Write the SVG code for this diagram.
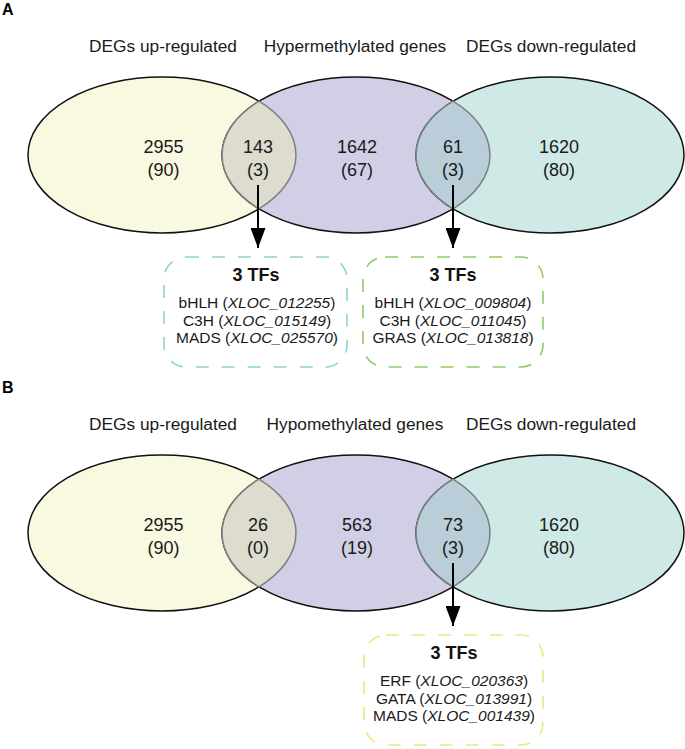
<svg xmlns="http://www.w3.org/2000/svg" width="685" height="749" viewBox="0 0 685 749">
<style>
text{font-family:"Liberation Sans",Arial,sans-serif;fill:#1a1a1a}
.panel{font-size:16px;font-weight:bold;fill:#000}
.lab{font-size:17.3px;text-anchor:middle}
.num{font-size:18px;text-anchor:middle}
.ell{stroke:#111;stroke-width:1.5}
.lens{stroke:#7f7f7f;stroke-width:1.5}
.box{fill:#fff;stroke-width:1.6;stroke-dasharray:13 13}
.tt{font-size:18px;font-weight:bold;text-anchor:middle;fill:#111}
.tl{font-size:15.5px;text-anchor:middle}
.it{font-style:italic}
.conn{stroke:#000;stroke-width:2;fill:none}
</style>
<defs>
<marker id="ah" viewBox="0 0 20 15" refX="20" refY="7.5" markerWidth="20" markerHeight="15" markerUnits="userSpaceOnUse" orient="auto">
<path d="M0,0 L20,7.5 L0,15 Z" fill="#000"/>
</marker>
</defs>
<rect width="685" height="749" fill="#fff"/>

<!-- Panel A -->
<g id="panelA">
<text class="panel" x="2" y="15">A</text>
<g id="A-up">
<ellipse class="ell" cx="162" cy="155" rx="134" ry="78" fill="#f9f9e1"/>
</g>
<g id="A-hyper">
<ellipse class="ell" cx="356" cy="155" rx="134" ry="78" fill="#d1cfe6"/>
</g>
<g id="A-down">
<ellipse class="ell" cx="550" cy="155" rx="134" ry="78" fill="#cfe9e6"/>
</g>
<g id="A-lens1">
<path class="lens" fill="#dddccf" d="M259,101.2 A134,78 0 0 1 259,208.8 A134,78 0 0 1 259,101.2 Z"/>
</g>
<g id="A-lens2">
<path class="lens" fill="#b9ced8" d="M453,101.2 A134,78 0 0 1 453,208.8 A134,78 0 0 1 453,101.2 Z"/>
</g>
<text class="lab" x="163" y="52">DEGs up-regulated</text>
<text class="lab" x="355" y="52">Hypermethylated genes</text>
<text class="lab" x="551" y="52">DEGs down-regulated</text>
<text class="num" x="163.5" y="153">2955</text><text class="num" x="163.5" y="176">(90)</text>
<text class="num" x="258" y="153">143</text><text class="num" x="258" y="176">(3)</text>
<text class="num" x="357" y="153">1642</text><text class="num" x="357" y="176">(67)</text>
<text class="num" x="453" y="153">61</text><text class="num" x="453" y="176">(3)</text>
<text class="num" x="559" y="153">1620</text><text class="num" x="559" y="176">(80)</text>

<g id="A-box1">
<rect class="box" x="164" y="257" width="183" height="110" rx="22" stroke="#90d2d2"/>
<text class="tt" x="256" y="281">3 TFs</text>
<text class="tl" x="257" y="308">bHLH (<tspan class="it">XLOC_012255</tspan>)</text>
<text class="tl" x="257" y="325.5">C3H (<tspan class="it">XLOC_015149</tspan>)</text>
<text class="tl" x="257" y="343">MADS (<tspan class="it">XLOC_025570</tspan>)</text>
</g>
<g id="A-box2">
<rect class="box" x="363" y="257" width="180" height="110" rx="22" stroke="#8ccb66"/>
<text class="tt" x="453" y="281">3 TFs</text>
<text class="tl" x="453" y="308">bHLH (<tspan class="it">XLOC_009804</tspan>)</text>
<text class="tl" x="453" y="325.5">C3H (<tspan class="it">XLOC_011045</tspan>)</text>
<text class="tl" x="453" y="343">GRAS (<tspan class="it">XLOC_013818</tspan>)</text>
</g>
</g>

<!-- Panel B -->
<g id="panelB" transform="translate(0,378)">
<text class="panel" x="2" y="15">B</text>
<g id="B-up">
<ellipse class="ell" cx="162" cy="155" rx="134" ry="78" fill="#f9f9e1"/>
</g>
<g id="B-hypo">
<ellipse class="ell" cx="356" cy="155" rx="134" ry="78" fill="#d1cfe6"/>
</g>
<g id="B-down">
<ellipse class="ell" cx="550" cy="155" rx="134" ry="78" fill="#cfe9e6"/>
</g>
<g id="B-lens1">
<path class="lens" fill="#dddccf" d="M259,101.2 A134,78 0 0 1 259,208.8 A134,78 0 0 1 259,101.2 Z"/>
</g>
<g id="B-lens2">
<path class="lens" fill="#b9ced8" d="M453,101.2 A134,78 0 0 1 453,208.8 A134,78 0 0 1 453,101.2 Z"/>
</g>
<text class="lab" x="163" y="52">DEGs up-regulated</text>
<text class="lab" x="355" y="52">Hypomethylated genes</text>
<text class="lab" x="551" y="52">DEGs down-regulated</text>
<text class="num" x="163.5" y="153">2955</text><text class="num" x="163.5" y="176">(90)</text>
<text class="num" x="258" y="153">26</text><text class="num" x="258" y="176">(0)</text>
<text class="num" x="357" y="153">563</text><text class="num" x="357" y="176">(19)</text>
<text class="num" x="453" y="153">73</text><text class="num" x="453" y="176">(3)</text>
<text class="num" x="559" y="153">1620</text><text class="num" x="559" y="176">(80)</text>

<g id="B-box1">
<rect class="box" x="364" y="257" width="179" height="110" rx="22" stroke="#e8e886"/>
<text class="tt" x="454" y="281">3 TFs</text>
<text class="tl" x="454" y="308">ERF (<tspan class="it">XLOC_020363</tspan>)</text>
<text class="tl" x="454" y="325.5">GATA (<tspan class="it">XLOC_013991</tspan>)</text>
<text class="tl" x="454" y="343">MADS (<tspan class="it">XLOC_001439</tspan>)</text>
</g>
</g>

<g id="connectors">
<line class="conn" x1="258" y1="185" x2="258" y2="248" marker-end="url(#ah)"/>
<line class="conn" x1="453" y1="185" x2="453" y2="248" marker-end="url(#ah)"/>
<line class="conn" x1="453" y1="563" x2="453" y2="626" marker-end="url(#ah)"/>
</g>
</svg>
